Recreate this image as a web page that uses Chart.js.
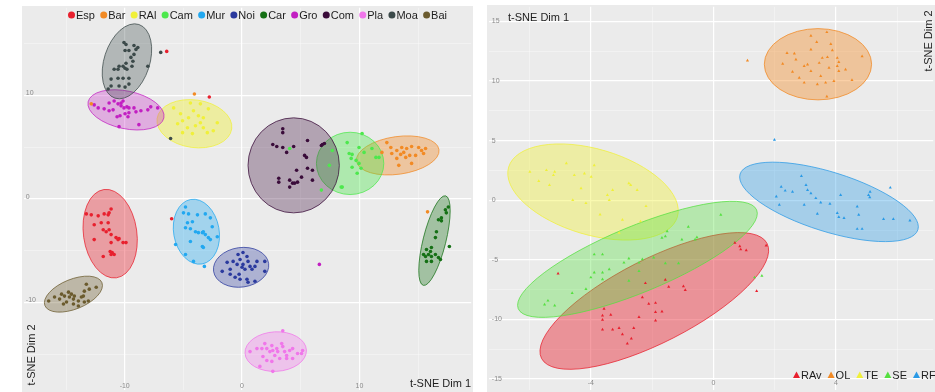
<!DOCTYPE html>
<html><head><meta charset="utf-8">
<script src="https://cdn.jsdelivr.net/npm/chart.js@4.4.1/dist/chart.umd.min.js"></script>
<style>
html,body{margin:0;padding:0;background:#fff;width:935px;height:392px;overflow:hidden;}
canvas{position:absolute;}
#c1{left:22px;top:6px;}
#c2{left:487px;top:5px;}
</style></head><body>
<canvas id="c1" width="451" height="386"></canvas>
<canvas id="c2" width="448" height="387"></canvas>
<script>
// ---------- LEFT PANEL DATA ----------
const leftGroups = ['Esp','Bar','RAl','Cam','Mur','Noi','Car','Gro','Com','Pla','Moa','Bai'];
const Esp = [[-13.27,-1.44],[-12.85,-1.53],[-12.26,-1.63],[-11.75,-1.44],[-11.33,-1.34],[-11.16,-0.96],[-11.41,-1.53],[-12.6,-2.49],[-12.0,-2.3],[-11.41,-2.3],[-11.83,-2.97],[-11.58,-3.16],[-11.33,-2.97],[-11.16,-3.44],[-10.74,-3.73],[-10.57,-3.92],[-10.48,-3.83],[-10.14,-4.21],[-9.89,-4.21],[-12.6,-3.92],[-11.16,-4.21],[-11.24,-5.07],[-11.07,-5.17],[-10.9,-5.36],[-11.83,-5.55],[-11.16,-5.36],[-6.0,-1.91],[-6.42,14.26],[-2.79,9.86]];
const Bar = [[12.34,5.45],[12.68,4.98],[13.19,4.69],[13.61,4.98],[14.03,4.88],[14.45,5.07],[15.05,4.98],[15.3,4.69],[15.47,4.4],[14.79,4.21],[14.29,4.21],[13.95,4.02],[13.52,4.31],[13.19,3.92],[14.45,3.44],[13.36,3.25],[15.64,4.88],[12.76,4.4],[11.92,4.5],[13.78,4.5],[-12.85,9.19],[-4.06,10.14],[15.81,-1.24]];
const RAl = [[-5.24,8.23],[-5.07,7.56],[-4.56,7.85],[-4.14,8.52],[-3.72,8.04],[-3.55,7.37],[-3.3,6.89],[-2.96,6.41],[-2.45,6.6],[-4.65,6.89],[-3.97,7.08],[-3.55,9.19],[-2.87,8.71],[-5.49,7.27],[-5.07,6.41],[-4.23,6.32],[-2.11,7.37],[-3.3,7.85],[-4.4,9.28],[-5.83,8.8]];
const Cam = [[8.96,5.45],[9.13,4.4],[9.38,4.31],[9.3,3.92],[9.72,3.73],[9.97,3.44],[10.14,2.97],[9.81,2.49],[10.4,4.5],[11.07,4.88],[11.41,4.02],[11.67,4.02],[7.69,4.69],[7.44,3.25],[8.45,1.15],[8.54,1.15],[10.23,6.32],[6.76,0.86],[9.97,4.98],[9.38,3.06],[4.06,4.88]];
const Mur = [[-4.82,-0.77],[-4.99,-1.34],[-4.56,-1.44],[-3.8,-1.53],[-3.13,-1.44],[-4.23,-2.2],[-4.65,-2.3],[-4.82,-2.78],[-4.4,-2.87],[-3.97,-3.16],[-3.72,-3.25],[-3.38,-3.25],[-3.3,-3.16],[-3.13,-3.44],[-2.7,-1.82],[-2.54,-2.68],[-2.87,-3.73],[-2.7,-3.92],[-4.4,-4.11],[-3.38,-4.59],[-3.3,-4.69],[-5.66,-4.4],[-4.82,-5.36],[-4.14,-6.03],[-3.21,-6.51],[-2.11,-3.64]];
const Noi = [[-1.69,-6.99],[-1.27,-6.12],[-1.01,-6.79],[-0.76,-6.03],[-0.42,-6.32],[-0.34,-5.36],[-0.17,-5.84],[0,-6.6],[0.08,-6.32],[0.25,-6.79],[0.42,-5.55],[0.51,-6.03],[0.68,-6.51],[0.85,-6.79],[1.1,-6.51],[1.27,-6.03],[1.94,-6.03],[-0.17,-7.75],[0.42,-7.75],[-0.59,-7.56],[0.51,-8.04],[1.1,-7.94],[-1.01,-7.27],[1.94,-6.99],[0.08,-5.17],[-0.25,-7.27]];
const Car = [[17.58,-0.77],[17.41,-1.34],[16.99,-1.82],[16.74,-2.01],[16.99,-2.11],[16.57,-3.16],[16.48,-3.73],[16.14,-4.69],[16.06,-5.07],[15.72,-4.88],[15.89,-5.36],[15.64,-5.55],[16.14,-5.55],[16.48,-5.36],[16.74,-5.65],[16.91,-5.84],[16.14,-6.03],[15.72,-6.03],[15.47,-5.36],[17.67,-4.59],[17.33,-1.05]];
const Gro = [[-12.6,9.09],[-11.75,8.71],[-11.33,9.28],[-10.9,9.47],[-10.57,9.19],[-10.31,9.28],[-10.14,9.47],[-10.31,9.0],[-10.06,8.8],[-9.81,8.9],[-9.64,8.8],[-9.21,8.8],[-9.04,8.42],[-8.62,8.52],[-8.03,8.61],[-7.78,8.9],[-7.19,8.8],[-11.33,8.52],[-10.99,8.61],[-10.65,7.94],[-10.4,8.04],[-9.97,8.23],[-9.72,7.94],[-9.64,8.33],[-8.79,7.18],[-10.48,6.99],[-12.26,8.8],[6.59,-6.32]];
const Com = [[3.47,6.79],[3.47,6.41],[2.62,5.26],[2.96,5.07],[3.47,4.98],[4.4,5.07],[5.58,5.65],[6.76,5.17],[6.85,5.26],[7.02,5.36],[5.33,4.21],[5.49,4.02],[3.8,4.5],[4.65,2.78],[6.0,2.78],[3.13,2.01],[3.13,1.63],[4.06,1.82],[4.31,1.53],[4.48,1.53],[4.73,1.63],[5.07,2.11],[4.06,1.15],[6.0,1.82],[5.58,2.97]];
const Pla = [[0.68,-14.74],[1.27,-14.45],[1.69,-14.45],[1.94,-13.97],[2.11,-14.45],[2.37,-14.74],[2.54,-14.16],[2.62,-14.64],[2.96,-14.45],[3.04,-14.74],[3.38,-13.97],[3.47,-14.26],[3.63,-14.74],[3.8,-15.12],[4.06,-14.64],[4.31,-14.45],[4.73,-14.93],[5.07,-14.93],[1.78,-15.22],[2.11,-15.6],[2.54,-15.69],[2.79,-15.12],[3.21,-15.41],[3.8,-15.41],[4.31,-15.41],[1.52,-16.17],[2.62,-16.65],[3.47,-12.73],[5.16,-14.64]];
const Moa = [[-10.06,15.12],[-9.89,14.93],[-9.97,14.35],[-9.64,14.35],[-9.21,14.83],[-9.04,14.45],[-8.88,14.64],[-9.21,13.97],[-9.47,13.68],[-9.89,13.11],[-9.3,13.3],[-10.48,12.82],[-10.57,12.54],[-10.9,12.54],[-10.14,12.82],[-9.97,12.63],[-9.81,12.54],[-9.38,12.82],[-8.03,12.82],[-11.16,11.58],[-10.57,11.67],[-10.14,11.67],[-9.64,11.67],[-11.16,10.91],[-10.48,10.91],[-9.97,10.81],[-9.64,11.1],[-11.41,10.62],[-6.09,5.84],[-6.93,14.16]];
const Bai = [[-16.48,-9.86],[-15.98,-9.47],[-15.55,-9.67],[-15.38,-9.19],[-15.13,-9.38],[-14.96,-9.95],[-14.71,-9.47],[-14.54,-9.19],[-14.37,-9.67],[-14.29,-9.38],[-13.95,-9.86],[-13.69,-9.47],[-13.52,-9.38],[-13.44,-8.9],[-13.27,-8.23],[-13.02,-8.71],[-13.1,-9.86],[-12.43,-8.52],[-15.22,-10.14],[-14.37,-10.14],[-13.95,-10.33],[-14.79,-9.0],[-13.44,-9.95]];
const leftSeries = [Esp,Bar,RAl,Cam,Mur,Noi,Car,Gro,Com,Pla,Moa,Bai];
// ellipse per group: [centerX, centerY, semiAxis1, semiAxis2, angleDeg]
const leftEllipses = [[-11.24,-3.35,3.8,2.58,98],[13.27,4.21,3.55,1.82,8],[-4.06,7.27,3.21,2.3,-8],[9.21,3.44,2.87,3.01,0],[-3.89,-3.16,2.79,2.2,100],[-0.08,-6.6,2.37,1.91,8],[16.4,-4.02,3.93,1.1,76],[-9.89,8.61,3.3,1.82,-12],[4.4,3.25,3.89,4.59,0],[2.87,-14.74,2.62,1.91,3],[-9.81,13.3,3.3,2.2,72],[-14.37,-9.19,2.62,1.44,22]];
const leftGridX = [-15,-10,-5,0,5,10,15];
const leftGridY = [-15,-10,-5,0,5,10,15];
const leftTickX = [-10,0,10];
const leftTickY = [-10,0,10];

// ---------- RIGHT PANEL DATA ----------
const rightGroups = ['RAv','OL','TE','SE','RF'];
const RAv = [[0.7,-3.57],[0.86,-3.86],[0.89,-4.13],[1.07,-4.21],[1.72,-3.8],[-2.22,-6.96],[-1.57,-6.68],[-1.46,-7.27],[-0.98,-7.23],[-0.92,-7.54],[-2.32,-8.15],[-2.11,-8.7],[-1.89,-8.62],[-1.89,-9.39],[-1.68,-9.34],[-2.43,-9.81],[-3.57,-9.12],[-3.62,-9.68],[-3.62,-10.03],[-3.35,-9.62],[-3.62,-10.86],[-3.29,-10.86],[-3.08,-10.72],[-2.97,-11.26],[-2.68,-11.61],[-2.81,-12.03],[-2.6,-10.72],[-1.89,-10.09],[-5.07,-6.15],[1.41,-7.62]];
const OL = [[3.18,13.8],[3.7,14.1],[3.37,13.27],[3.83,13.1],[3.88,12.58],[2.4,12.35],[2.64,12.3],[3.18,12.64],[2.69,11.8],[2.26,11.44],[2.96,11.25],[3.07,11.39],[3.55,11.94],[3.45,11.52],[3.72,12.0],[4.04,11.94],[4.09,11.6],[4.04,11.25],[3.77,11.11],[4.31,10.97],[4.09,10.83],[4.85,12.08],[2.58,10.77],[2.8,10.27],[2.96,9.86],[3.39,9.73],[3.66,9.86],[3.93,10.0],[4.52,10.08],[3.5,10.42],[3.18,10.83],[3.7,8.7],[1.11,11.72]];
const TE = [[-5.99,2.38],[-5.45,2.52],[-5.18,2.38],[-5.22,2.1],[-4.54,2.1],[-4.21,2.24],[-3.99,1.96],[-3.89,2.93],[-5.35,1.27],[-4.32,1.0],[-3.46,0.44],[-3.29,0.86],[-2.76,1.41],[-2.7,1.27],[-2.49,0.86],[-4.59,0.02],[-4.16,-0.25],[-3.4,0.02],[-3.08,-2.74],[-2.38,-1.78],[-2.97,-1.64],[-5.7,1.6],[-4.8,3.1],[-2.2,-0.5],[-3.7,-1.2]];
const SE = [[0.24,-1.22],[-0.82,-2.24],[-0.6,-3.3],[-0.54,-3.11],[-1.03,-3.3],[-1.51,-2.61],[-1.57,-3.03],[-1.68,-3.16],[-1.95,-4.82],[-2.32,-4.96],[-2.43,-5.24],[-2.76,-4.9],[-2.92,-5.24],[-3.62,-4.55],[-3.89,-4.55],[-3.89,-6.07],[-3.62,-6.07],[-3.62,-6.63],[-3.4,-5.79],[-4.0,-6.48],[-4.16,-7.46],[-4.61,-7.79],[-5.4,-8.43],[-5.51,-8.76],[-5.18,-8.84],[-2.76,-6.77],[-1.57,-5.3],[-1.14,-5.3],[1.34,-6.48],[1.58,-6.35],[-2.43,-5.94]];
const RF = [[1.99,5.07],[2.87,2.02],[2.21,1.13],[2.34,0.8],[2.58,0.71],[3.02,1.27],[3.07,0.86],[3.18,0.58],[2.05,0.3],[4.15,0.44],[5.06,0.44],[5.11,0.71],[5.77,1.05],[3.34,0.17],[3.5,-0.2],[3.8,-0.31],[2.15,-0.39],[2.96,-0.39],[3.39,-1.14],[4.04,-1.08],[4.09,-1.41],[4.26,-1.5],[4.69,-0.53],[4.74,-1.22],[4.69,-2.41],[4.85,-2.41],[5.1,0.25],[5.55,-1.58],[5.87,-1.58],[6.41,-1.7]];
const rightSeries = [RAv,OL,TE,SE,RF];
const rightEllipses = [[-1.93,-8.45,4.13,3.49,27],[3.41,11.41,1.75,2.99,0],[-3.93,0.69,2.87,3.6,-16.4],[-2.48,-4.96,4.21,2.77,22.5],[3.77,-0.14,3.04,2.49,-17.4]];
const rightGridX = [-6,-4,-2,0,2,4,6];
const rightGridY = [-15,-12.5,-10,-7.5,-5,-2.5,0,2.5,5,7.5,10,12.5,15];
const rightTickX = [-4,0,4];
const rightTickY = [-15,-10,-5,0,5,10,15];

// ---------- STYLES ----------
const leftColors = ['#e8202e','#f28a24','#f0f03a','#4de84d','#22a8f0','#2b3a9e','#157015','#c21fc2','#3a0c3a','#f076ea','#3c4a4a','#6b5b2e'];
const rightColors = ['#e8202e','#f28a24','#f0f03a','#55e040','#2a9ae6'];
const FONT = '"Liberation Sans", Arial, sans-serif';

function rgba(hex, a){
  const n = parseInt(hex.slice(1),16);
  return `rgba(${(n>>16)&255},${(n>>8)&255},${n&255},${a})`;
}

const panelBg = {
  id:'panelBg',
  beforeDraw(chart){
    const c = chart.ctx; c.save(); c.fillStyle = '#ebebeb';
    c.fillRect(0,0,chart.width,chart.height); c.restore();
  }
};

const ellipsePlugin = {
  id:'ellipses',
  beforeDatasetsDraw(chart, args, o){
    const {ctx, chartArea:a, scales:{x,y}} = chart;
    ctx.save();
    ctx.beginPath(); ctx.rect(a.left,a.top,a.right-a.left,a.bottom-a.top); ctx.clip();
    o.list.forEach((e,i)=>{
      const [cx,cy,r1,r2,ang] = e;
      const px = x.getPixelForValue(cx), py = y.getPixelForValue(cy);
      const r1p = Math.abs(x.getPixelForValue(cx+r1)-px);
      const r2p = Math.abs(y.getPixelForValue(cy+r2)-py);
      ctx.beginPath();
      ctx.ellipse(px,py,r1p,r2p,-ang*Math.PI/180,0,Math.PI*2);
      ctx.fillStyle = rgba(o.colors[i], o.fillAlpha[i] ?? o.alpha);
      ctx.fill();
      ctx.lineWidth = 1;
      ctx.strokeStyle = rgba(o.colors[i], 0.75);
      ctx.stroke();
    });
    ctx.restore();
  }
};

const tickLabels = {
  id:'tickLabels',
  afterDraw(chart, args, o){
    const {ctx, chartArea:a, scales:{x,y}} = chart;
    ctx.save(); ctx.fillStyle = '#8a8a8a'; ctx.font = '7px ' + FONT;
    ctx.textAlign='center'; ctx.textBaseline='middle';
    o.xs.forEach(v=>ctx.fillText(String(v), x.getPixelForValue(v), a.bottom - o.xOff));
    ctx.textAlign='left';
    o.ys.forEach(v=>ctx.fillText(String(v), a.left + o.yOff, y.getPixelForValue(v) + o.yShift));
    ctx.restore();
  }
};

const titles = {
  id:'titles',
  afterDraw(chart, args, o){
    const ctx = chart.ctx;
    o.items.forEach(t=>{
      ctx.save(); ctx.fillStyle = '#1e1e1e'; ctx.font = '11px ' + FONT;
      ctx.translate(t.x, t.y); ctx.rotate(t.rot*Math.PI/180);
      ctx.textAlign = t.align; ctx.textBaseline='middle';
      ctx.fillText(t.text, 0, 0); ctx.restore();
    });
  }
};

const customLegend = {
  id:'customLegend',
  afterDraw(chart, args, o){
    const ctx = chart.ctx; const ds = chart.data.datasets;
    ctx.save(); ctx.font = '11px ' + FONT; ctx.textBaseline='middle'; ctx.textAlign='left';
    const widths = ds.map(d=>ctx.measureText(d.label).width);
    const mark = 7, gap = 1;
    let spacing = o.spacing;
    if (o.width){
      const used = widths.reduce((s,w)=>s+w,0) + ds.length*(mark+gap);
      spacing = (o.width - used)/(ds.length-1);
    }
    let xx = o.x;
    ds.forEach((d,i)=>{
      ctx.fillStyle = d.backgroundColor;
      if (o.shape === 'circle'){
        ctx.beginPath(); ctx.arc(xx+mark/2, o.y, mark/2, 0, Math.PI*2); ctx.fill();
      } else {
        ctx.beginPath(); ctx.moveTo(xx, o.y+3); ctx.lineTo(xx+mark, o.y+3); ctx.lineTo(xx+mark/2, o.y-3.5); ctx.closePath(); ctx.fill();
      }
      ctx.fillStyle = '#1e1e1e';
      ctx.fillText(d.label, xx+mark+gap, o.y+0.5);
      xx += mark + gap + widths[i] + spacing;
    });
    ctx.restore();
  }
};

function axis(min,max,grid,majors){
  return {
    type:'linear', min, max,
    afterBuildTicks: s => { s.ticks = grid.map(v=>({value:v})); },
    ticks:{display:false},
    border:{display:false},
    grid:{
      drawTicks:false,
      color: c => majors.includes(c.tick.value) ? '#ffffff' : 'rgba(255,255,255,0.6)',
      lineWidth: c => majors.includes(c.tick.value) ? 1.2 : 0.6
    }
  };
}

function makeChart(id, groups, series, colors, ellipses, xr, yr, gx, gy, tx, ty, pointStyle, radius, extra){
  return new Chart(document.getElementById(id), {
    type:'scatter',
    data:{ datasets: groups.map((g,i)=>({
      label:g, data: series[i].map(([x,y])=>({x,y})),
      backgroundColor: colors[i], borderWidth:0, pointRadius: radius,
      pointStyle, pointHoverRadius: radius
    }))},
    options:{
      responsive:false, animation:false, events:[],
      layout:{padding:0},
      scales:{ x: axis(xr[0],xr[1],gx,tx), y: axis(yr[0],yr[1],gy,ty) },
      plugins:{
        legend:{display:false}, tooltip:{enabled:false},
        ellipses:{list:ellipses, colors, alpha:0.36, fillAlpha:extra.fillAlpha},
        tickLabels:{xs:tx, ys:ty, xOff:extra.xOff, yOff:extra.yOff, yShift:extra.yShift},
        titles:{items:extra.titles},
        customLegend:extra.legend
      }
    },
    plugins:[panelBg, ellipsePlugin, tickLabels, titles, customLegend]
  });
}

makeChart('c1', leftGroups, leftSeries, leftColors, leftEllipses,
  [-18.6,19.53],[-18.47,18.47], leftGridX, leftGridY, leftTickX, leftTickY, 'circle', 1.8,
  { fillAlpha:[0.38,0.38,0.42,0.38,0.36,0.32,0.34,0.3,0.32,0.34,0.32,0.36],
    xOff:4, yOff:2, yShift:-2,
    titles:[{text:'t-SNE Dim 2', x:10, y:349, rot:-90, align:'center'},
            {text:'t-SNE Dim 1', x:449, y:378, rot:0, align:'right'}],
    legend:{shape:'circle', x:46, y:9, width:379} });

makeChart('c2', rightGroups, rightSeries, rightColors, rightEllipses,
  [-7.33,7.17],[-15.94,16.23], rightGridX, rightGridY, rightTickX, rightTickY, 'triangle', 1.8,
  { fillAlpha:[0.44,0.4,0.4,0.36,0.36],
    xOff:7, yOff:3, yShift:0,
    titles:[{text:'t-SNE Dim 1', x:21, y:13, rot:0, align:'left'},
            {text:'t-SNE Dim 2', x:442, y:36, rot:-90, align:'center'}],
    legend:{shape:'triangle', x:306, y:370, spacing:6} });
</script>
</body></html>
